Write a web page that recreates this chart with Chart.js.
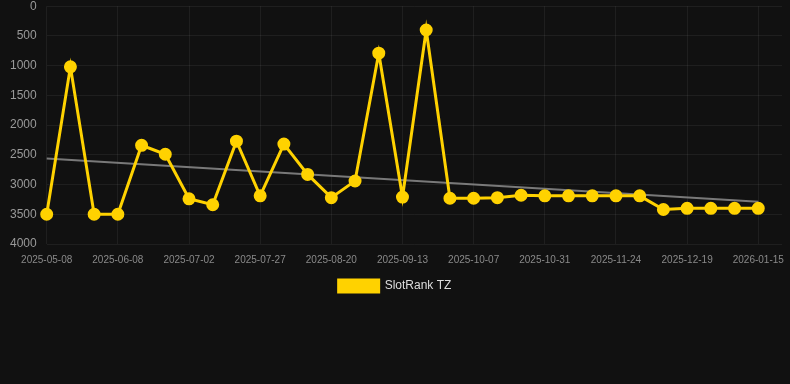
<!DOCTYPE html>
<html>
<head>
<meta charset="utf-8">
<script src="https://cdn.jsdelivr.net/npm/chart.js@4.4.1/dist/chart.umd.min.js"></script>
<style>
  html, body { margin: 0; padding: 0; background: #111111; overflow: hidden; }
  #wrap { position: relative; width: 790px; height: 313px; margin-top: -11px; }
</style>
</head>
<body>
<div id="wrap"><canvas id="rank-chart"></canvas></div>
<script>
// --- Datos ---
const dates = [
  '2025-05-08', '2025-05-18', '2025-05-29', '2025-06-08', '2025-06-16', '2025-06-24',
  '2025-07-02', '2025-07-10', '2025-07-19', '2025-07-27', '2025-08-04', '2025-08-12',
  '2025-08-20', '2025-08-28', '2025-09-05', '2025-09-13', '2025-09-21', '2025-09-29',
  '2025-10-07', '2025-10-15', '2025-10-23', '2025-10-31', '2025-11-08', '2025-11-16',
  '2025-11-24', '2025-12-02', '2025-12-10', '2025-12-19', '2025-12-28', '2026-01-06',
  '2026-01-15'
];
const rankTZ = [
  3500, 1020, 3500, 3500, 2340, 2490, 3240, 3340, 2270, 3190, 2320, 2830,
  3220, 2940, 790, 3210, 400, 3230, 3230, 3220, 3180, 3190, 3190, 3190,
  3190, 3190, 3420, 3400, 3400, 3400, 3400
];
// tendencia: solo extremos (2560 -> 3290)
const trendStart = 2560;
const trendEnd = 3290;
const yTicks = [0, 500, 1000, 1500, 2000, 2500, 3000, 3500, 4000];

const trendData = dates.map((d, i) => i === 0 ? trendStart : (i === dates.length - 1 ? trendEnd : null));
const labels = [...dates, '']; // categoria vacia al final (hueco a la derecha)

const ctx = document.getElementById('rank-chart').getContext('2d');
new Chart(ctx, {
  type: 'line',
  data: {
    labels: labels,
    datasets: [{
      label: 'SlotRank TZ',
      data: rankTZ,
      borderColor: '#FFD200',
      backgroundColor: '#FFD200',
      borderWidth: 3,
      pointRadius: 5,
      pointBackgroundColor: '#FFD200',
      pointBorderColor: '#FFD200',
      tension: 0,
      fill: false,
      order: 1
    }, {
      label: 'trend',
      data: trendData,
      borderColor: 'rgba(140, 140, 140, 0.85)',
      borderWidth: 2,
      pointRadius: 0,
      spanGaps: true,
      fill: false,
      order: 2
    }]
  },
  options: {
    responsive: true,
    maintainAspectRatio: false,
    animation: false,
    layout: { padding: { left: 0, right: 0, top: 0, bottom: 0 } },
    scales: {
      x: {
        offset: false,
        ticks: {
          color: '#8a8a8a',
          font: { size: 10, family: 'Liberation Sans, Arial, sans-serif' },
          autoSkip: false,
          maxRotation: 0,
          padding: 3,
          callback: function (v, i) { return i % 3 === 0 ? this.getLabelForValue(v) : ''; }
        },
        grid: {
          color: (c) => (c.index % 3 === 0 ? 'rgba(255, 255, 255, 0.06)' : 'transparent'),
          drawTicks: true,
          tickLength: 7,
          tickColor: 'transparent'
        },
        border: { display: false }
      },
      y: {
        reverse: true,
        min: 0,
        max: 4000,
        afterBuildTicks: (axis) => { axis.ticks = yTicks.map(v => ({ value: v })); },
        ticks: {
          color: '#9a9a9a',
          font: { size: 12, family: 'Liberation Sans, Arial, sans-serif' },
          padding: 10,
          callback: (v) => String(v)
        },
        grid: { color: 'rgba(255, 255, 255, 0.06)', drawTicks: false },
        border: { display: false }
      }
    },
    plugins: {
      legend: {
        position: 'bottom',
        labels: {
          color: '#dddddd',
          boxWidth: 40,
          boxHeight: 12,
          padding: 11,
          font: { size: 12, family: 'Liberation Sans, Arial, sans-serif' },
          filter: (item) => item.text !== 'trend'
        }
      },
      tooltip: { enabled: false }
    }
  }
});
</script>
</body>
</html>
